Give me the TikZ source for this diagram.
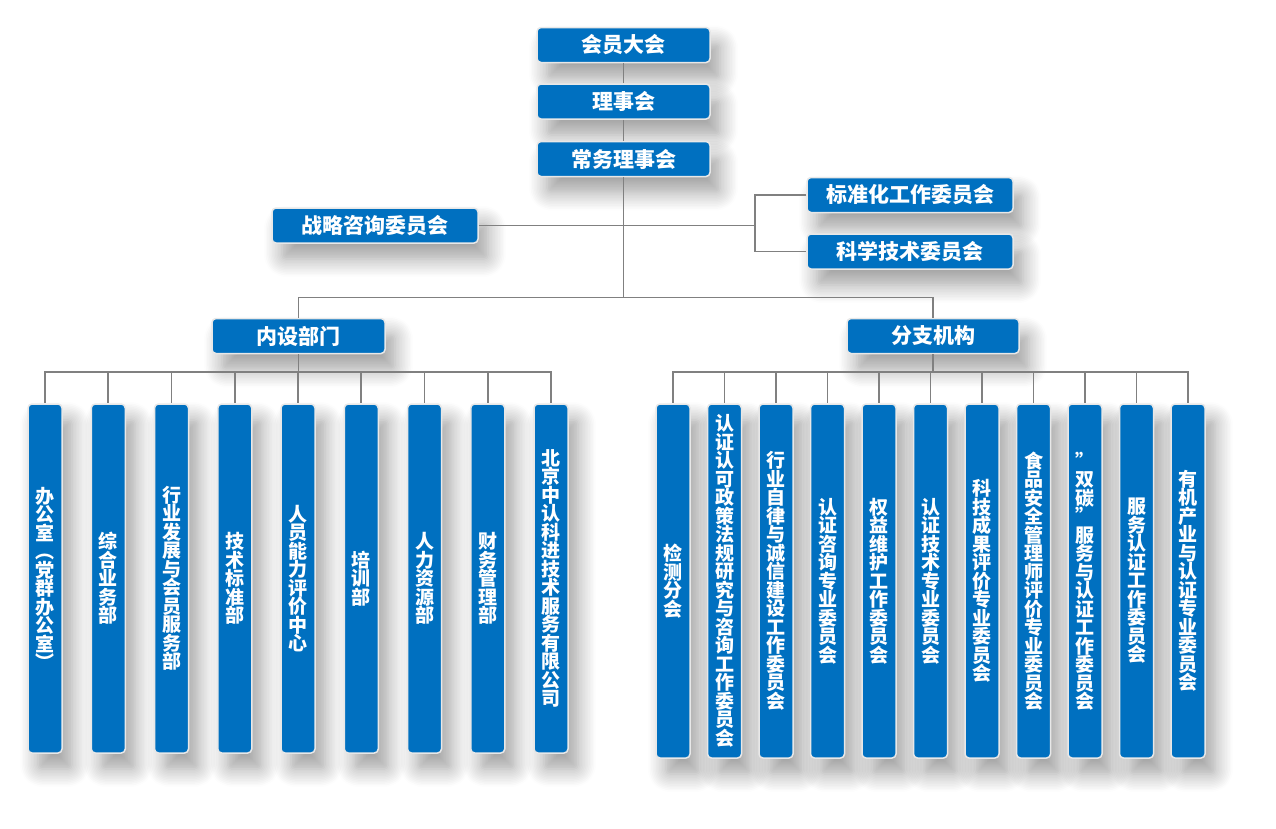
\documentclass[tikz,border=0pt]{standalone}
\usepackage{fontspec}
\newfontfamily\cjk{Noto Sans CJK SC}
\usetikzlibrary{shadows}
\usetikzlibrary{shadows.blur}

\definecolor{orgblue}{RGB}{0,112,192}
\definecolor{orgline}{RGB}{128,128,128}
\definecolor{orgedge}{RGB}{232,232,232}

\makeatletter
\newcommand\vstack[1]{\vbox{\baselineskip=18.5pt\lineskiplimit=-20pt
  \@tfor\vch:=#1\do{\hbox to 20pt{\hss\vch\hss}}}}
\makeatother

\tikzset{
  orgbox/.style={draw=orgedge, line width=1.5pt, fill=orgblue, rounded corners=4pt,
    text=white, inner sep=0pt, font=\cjk\bfseries\fontsize{21}{21}\selectfont,
    blur shadow={shadow xshift=10pt, shadow yshift=-16pt, shadow blur radius=18pt,
      shadow blur steps=12, shadow opacity=38}},
  topbox/.style={orgbox, minimum width=173pt, minimum height=35pt},
  widebox/.style={orgbox, minimum width=206pt, minimum height=35pt},
  tallbox/.style={orgbox, font=\cjk\bfseries\fontsize{19}{18.5}\selectfont, minimum width=34pt},
  link/.style={draw=orgline, line width=1.7pt}
}

\begin{document}
\begin{tikzpicture}[x=1pt,y=-1pt]
  \useasboundingbox (0,0) rectangle (1276,828);

  \node[topbox] (hyd) at (623.5,45) {会员大会};
  \node[topbox] (lsh) at (623.5,101.5) {理事会};
  \node[topbox] (cwlsh) at (623.5,159) {常务理事会};
  \node[widebox] (zlzx) at (375,225.5) {战略咨询委员会};
  \node[widebox] (bzh) at (910,195) {标准化工作委员会};
  \node[widebox] (kxjs) at (910,251.5) {科学技术委员会};
  \node[topbox] (nsbm) at (298.5,336) {内设部门};
  \node[topbox, minimum width=172pt] (fzjg) at (933,336) {分支机构};

  \foreach \lbl [count=\i] in {办公室︵党群办公室︶, 综合业务部, 行业发展与会员服务部,
      技术标准部, 人员能力评价中心, 培训部, 人力资源部, 财务管理部, 北京中认科进技术服务有限公司}
    \node[tallbox, minimum height=349pt] (n\i) at ({45+63.25*(\i-1)},578.5)
      {\expandafter\vstack\expandafter{\lbl}};

  \foreach \lbl [count=\i] in {检测分会, 认证认可政策法规研究与咨询工作委员会, 行业自律与诚信建设工作委员会,
      认证咨询专业委员会, 权益维护工作委员会, 认证技术专业委员会, 科技成果评价专业委员会,
      食品安全管理师评价专业委员会, ”双碳”服务与认证工作委员会, 服务认证工作委员会,
      有机产业与认证专业委员会}
    \node[tallbox, minimum height=354pt] (f\i) at ({673+51.5*(\i-1)},581)
      {\expandafter\vstack\expandafter{\lbl}};

  \coordinate (midbus) at (623,297.5);
  \coordinate (brk) at (755,226);

  \draw[link] (hyd) -- (lsh);
  \draw[link] (lsh) -- (cwlsh);
  \draw[link] (cwlsh) -- (cwlsh |- midbus);
  \draw[link] (zlzx.east) -- (zlzx.east -| brk);
  \draw[link] (bzh.west) -- (bzh.west -| brk) -- (kxjs.west -| brk) -- (kxjs.west);
  \draw[link] (nsbm.north) |- (midbus) -| (fzjg.north);
  \foreach \i in {1,...,9}
    \draw[link] (nsbm.south) -- ++(0,17.5) -| (n\i.north);
  \foreach \i in {1,...,11}
    \draw[link] (fzjg.south) -- ++(0,17.5) -| (f\i.north);
\end{tikzpicture}
\end{document}
